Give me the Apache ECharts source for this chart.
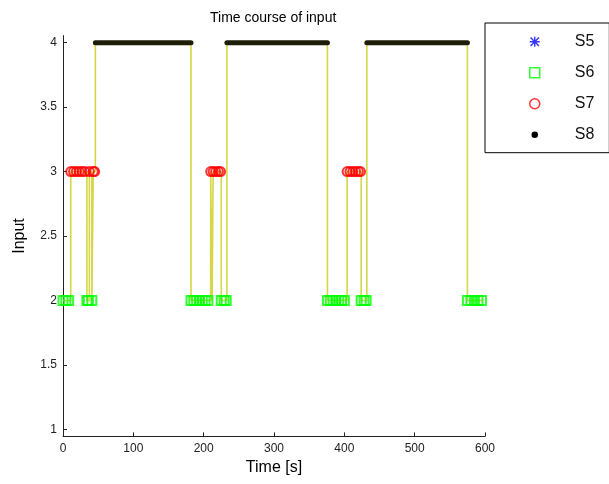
<!DOCTYPE html>
<html><head><meta charset="utf-8">
<script src="https://cdn.jsdelivr.net/npm/echarts@6/dist/echarts.min.js"></script>
<style>html,body{margin:0;padding:0;background:#fff}#c{width:609px;height:484px}</style>
</head><body><div id="c"></div>
<script>
// Input step signal (change points, held until next time)
const inputTimes  = [0, 11, 34, 37.5, 41, 43, 46, 182, 210, 212, 213.5, 225, 233, 376, 404, 424, 432, 575, 597];
const inputLevels = [2, 3,  2,  3,    2,  3,  4,  2,   3,   2,   3,     2,   4,   2,   3,   2,   4,   2,   2];
// State markers
const s5Times = [];
const s5Level = 1;
const s6Times = [0, 4, 8, 34, 36, 41, 182, 186, 190, 194, 198, 202, 206, 225, 229, 232, 376, 380, 384, 388, 392, 396, 400, 424, 428, 431, 575, 580, 585, 590, 595];
const s6Level = 2;
const s7Times = [11, 15, 19, 23, 27, 31, 37.5, 43, 45, 210, 213.5, 217, 221, 224, 404, 408, 412, 416, 420, 423];
const s7Level = 3;
const s8Start = [46, 233, 432];
const s8End   = [182, 376, 575];
const s8Level = 4;
// Axis ticks
const xTicks = [0, 100, 200, 300, 400, 500, 600];
const yTicks = [1, 1.5, 2, 2.5, 3, 3.5, 4];

const FONT = "'Liberation Sans', Arial, sans-serif";
const STAR = 'path://M4.3,0H5.7V10H4.3Z M0,4.3H10V5.7H0Z M1.3,0.3L9.7,8.7L8.7,9.7L0.3,1.3Z M8.7,0.3L9.7,1.3L1.3,9.7L0.3,8.7Z';

const series = [
  { type: 'line', data: inputTimes.map((t, i) => [t, inputLevels[i]]), step: 'end', symbol: 'none',
    lineStyle: { color: 'rgb(214,214,70)', width: 1.6 }, z: 1, silent: true },
  { name: 'S5', type: 'scatter', data: s5Times.map(t => [t, s5Level]), symbol: STAR, symbolSize: 10,
    itemStyle: { color: '#0000ff' }, z: 3 },
  { name: 'S6', type: 'scatter', data: s6Times.map(t => [t, s6Level]), symbol: 'rect', symbolSize: 9,
    itemStyle: { color: 'rgba(0,0,0,0)', borderColor: '#00ff00', borderWidth: 2 }, z: 3 },
  { name: 'S7', type: 'scatter', data: s7Times.map(t => [t, s7Level]), symbol: 'circle', symbolSize: 9,
    itemStyle: { color: 'rgba(0,0,0,0)', borderColor: '#ff0000', borderWidth: 2 }, z: 3 }
];
s8Start.forEach((s, i) => {
  series.push({ name: 'S8', type: 'line', data: [[s, s8Level], [s8End[i], s8Level]], symbol: 'none',
    lineStyle: { color: '#1e1e08', width: 5, cap: 'round' }, itemStyle: { color: '#000' }, z: 4 });
});

const chart = echarts.init(document.getElementById('c'));
chart.setOption({
  animation: false,
  backgroundColor: '#fff',
  title: { text: 'Time course of input', left: 210, top: 11, padding: 0,
    textStyle: { fontSize: 14, fontWeight: 'normal', color: '#000', fontFamily: FONT } },
  grid: { left: 63, right: 124, top: 35.6, bottom: 47.6, containLabel: false },
  legend: {
    orient: 'vertical', left: 485, top: 23, padding: [10.7, 15, 10, 43],
    itemWidth: 10, itemHeight: 10, itemGap: 15,
    borderColor: '#000', borderWidth: 1, backgroundColor: '#fff',
    textStyle: { fontSize: 16, lineHeight: 16, color: '#111', fontFamily: FONT, padding: [0, 0, 0, 30] },
    data: [
      { name: 'S5', icon: STAR, itemStyle: { color: '#0000ff' } },
      { name: 'S6', icon: 'rect', itemStyle: { color: 'rgba(0,0,0,0)', borderColor: '#00ff00', borderWidth: 1.5 } },
      { name: 'S7', icon: 'circle', itemStyle: { color: 'rgba(0,0,0,0)', borderColor: '#ff0000', borderWidth: 1.5 } },
      { name: 'S8', icon: 'circle', itemStyle: { color: '#000', borderColor: '#fff', borderWidth: 3.5 } }
    ]
  },
  xAxis: {
    type: 'value', min: 0, max: 600, interval: 100,
    name: 'Time [s]', nameLocation: 'middle', nameGap: 22,
    nameTextStyle: { fontSize: 16, color: '#000', fontFamily: FONT },
    axisLine: { onZero: false, lineStyle: { color: '#222', width: 1 } },
    axisTick: { inside: true, length: 4, lineStyle: { color: '#222' } },
    axisLabel: { margin: 6, fontSize: 12, color: '#222', fontFamily: FONT, customValues: xTicks },
    splitLine: { show: false }
  },
  yAxis: {
    type: 'value', min: 0.945, max: 4.055,
    name: 'Input', nameLocation: 'middle', nameGap: 35, nameRotate: 90,
    nameTextStyle: { fontSize: 16, color: '#000', fontFamily: FONT },
    axisLine: { show: true, onZero: false, lineStyle: { color: '#222', width: 1 } },
    axisTick: { show: true, inside: true, length: 4, lineStyle: { color: '#222' }, customValues: yTicks },
    axisLabel: { margin: 6, fontSize: 12, color: '#222', fontFamily: FONT, customValues: yTicks },
    splitLine: { show: false }
  },
  series: series
});
</script></body></html>
